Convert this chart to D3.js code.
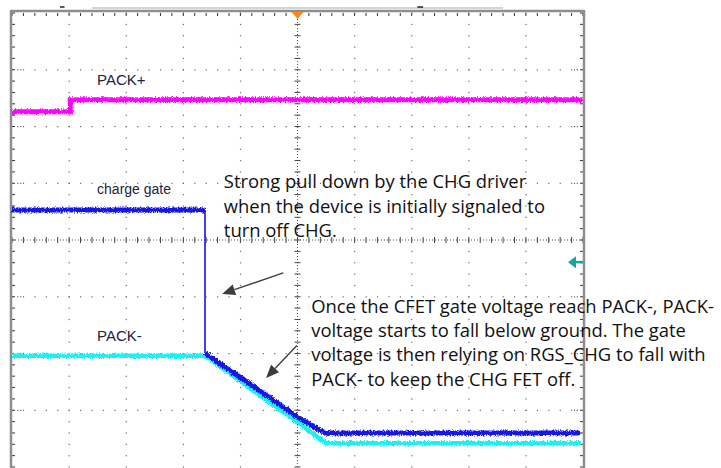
<!DOCTYPE html>
<html>
<head>
<meta charset="utf-8">
<script src="https://cdn.jsdelivr.net/npm/d3@7"></script>
<style>
  html, body { margin: 0; padding: 0; background: #fff; }
  svg { display: block; }
</style>
</head>
<body>
<div id="chart"></div>
<script>
'use strict';

// time in divisions (-5..5), voltage in divisions (-4..4)
var packPlusT = [-5, -3.98, -3.98, 5];
var packPlusV = [2.26, 2.26, 2.47, 2.47];

var gateT = [-5, -1.62, -1.62, 0.0, 0.48, 4.95];
var gateV = [0.53, 0.53, -1.99, -3.12, -3.40, -3.40];

var packMinusT = [-5, -1.62, 0.0, 0.5, 4.95];
var packMinusV = [-2.04, -2.04, -3.21, -3.58, -3.58];

var traceLabels = ['PACK+', 'charge gate', 'PACK-'];
var traceLabelT = [-3.51, -3.51, -3.51];
var traceLabelV = [2.74, 0.81, -1.78];

var noteLines1 = ['Strong pull down by the CHG driver',
                  'when the device is initially signaled to',
                  'turn off CHG.'];
var noteLines2 = ['Once the CFET gate voltage reach PACK-, PACK-',
                  'voltage starts to fall below ground. The gate',
                  'voltage is then relying on RGS_CHG to fall with',
                  'PACK- to keep the CHG FET off.'];
var noteAnchorT = [-1.29, 0.24];
var noteAnchorV = [0.91, -1.28];

// arrows: [fromT, fromV] -> [toT, toV]
var arrowFrom = [[-0.25, -0.58], [-0.01, -1.86]];
var arrowTo = [[-1.32, -0.95], [-0.55, -2.43]];

var W = 721, H = 468;
var x = d3.scaleLinear().domain([-5, 5]).range([12, 583]);
var y = d3.scaleLinear().domain([4, -4]).range([13, 467]);

var svg = d3.select('#chart').append('svg')
    .attr('width', W).attr('height', H)
    .attr('xmlns', 'http://www.w3.org/2000/svg');

var defs = svg.append('defs');
var flt = defs.append('filter').attr('id', 'noise')
    .attr('filterUnits', 'userSpaceOnUse')
    .attr('x', 0).attr('y', 0).attr('width', W).attr('height', H);
flt.append('feTurbulence').attr('type', 'fractalNoise')
    .attr('baseFrequency', '1.4 0.6').attr('numOctaves', 2).attr('seed', 5).attr('result', 't');
flt.append('feDisplacementMap').attr('in', 'SourceGraphic').attr('in2', 't')
    .attr('scale', 4.5).attr('xChannelSelector', 'R').attr('yChannelSelector', 'G');

// ── Grid ──
var grid = svg.append('g').attr('class', 'grid');
var majors = d3.range(-5, 6);
var majorsY = d3.range(-4, 5);
var minorX = d3.range(-25, 26).map(function(d) { return d / 5; });
var minorY = d3.range(-20, 21).map(function(d) { return d / 5; });
var dotColor = '#6a6a6a';

majors.filter(function(d) { return d !== 0 && Math.abs(d) !== 5; }).forEach(function(mx) {
    grid.selectAll(null).data(minorY).enter().append('rect')
        .attr('x', x(mx) - 0.5).attr('y', function(d) { return y(d) - 0.5; })
        .attr('width', 1.2).attr('height', 1.2).attr('fill', dotColor);
});
majorsY.filter(function(d) { return d !== 0 && Math.abs(d) !== 4; }).forEach(function(my) {
    grid.selectAll(null).data(minorX).enter().append('rect')
        .attr('x', function(d) { return x(d) - 0.5; }).attr('y', y(my) - 0.5)
        .attr('width', 1.2).attr('height', 1.2).attr('fill', dotColor);
    // denser dots next to the borders
    [-4.9, -4.85, 4.85, 4.9].forEach(function(t) {
        grid.append('rect').attr('x', x(t) - 0.5).attr('y', y(my) - 0.5)
            .attr('width', 1.2).attr('height', 1.2).attr('fill', dotColor);
    });
});

// center lines
grid.append('line').attr('x1', x(0)).attr('x2', x(0)).attr('y1', y(4)).attr('y2', y(-4))
    .attr('stroke', '#555').attr('stroke-width', 1).attr('stroke-dasharray', '1,2');
grid.append('line').attr('x1', x(-5)).attr('x2', x(5)).attr('y1', y(0)).attr('y2', y(0))
    .attr('stroke', '#555').attr('stroke-width', 1).attr('stroke-dasharray', '1,2');
grid.selectAll('.cty').data(minorY).enter().append('line').attr('class', 'cty')
    .attr('x1', x(0) - 3).attr('x2', x(0) + 3)
    .attr('y1', function(d) { return y(d); }).attr('y2', function(d) { return y(d); })
    .attr('stroke', '#444').attr('stroke-width', 1);
grid.selectAll('.ctx').data(minorX).enter().append('line').attr('class', 'ctx')
    .attr('y1', y(0) - 3).attr('y2', y(0) + 3)
    .attr('x1', function(d) { return x(d); }).attr('x2', function(d) { return x(d); })
    .attr('stroke', '#444').attr('stroke-width', 1);

// border ticks
grid.selectAll('.btx').data(minorX).enter().append('line').attr('class', 'btx')
    .attr('x1', function(d) { return x(d); }).attr('x2', function(d) { return x(d); })
    .attr('y1', y(4)).attr('y2', y(4) + 3)
    .attr('stroke', '#333').attr('stroke-width', 1);
grid.selectAll('.bly').data(minorY).enter().append('line').attr('class', 'bly')
    .attr('x1', x(-5)).attr('x2', x(-5) + 3)
    .attr('y1', function(d) { return y(d); }).attr('y2', function(d) { return y(d); })
    .attr('stroke', '#333').attr('stroke-width', 1);
grid.selectAll('.bry').data(minorY).enter().append('line').attr('class', 'bry')
    .attr('x1', x(5) - 3).attr('x2', x(5))
    .attr('y1', function(d) { return y(d); }).attr('y2', function(d) { return y(d); })
    .attr('stroke', '#333').attr('stroke-width', 1);

// frame
svg.append('line').attr('x1', x(-3.6)).attr('x2', x(3.6)).attr('y1', y(4) - 5).attr('y2', y(4) - 5)
    .attr('stroke', '#d4d4d4').attr('stroke-width', 2);
svg.append('line').attr('x1', x(-5) - 1).attr('x2', x(5) + 1).attr('y1', y(4) - 2).attr('y2', y(4) - 2)
    .attr('stroke', '#8e8e8e').attr('stroke-width', 2.5);
svg.append('line').attr('x1', x(-5) - 1).attr('x2', x(-5) - 1).attr('y1', y(4) - 3).attr('y2', H)
    .attr('stroke', '#8e8e8e').attr('stroke-width', 2.5);
svg.append('line').attr('x1', x(5) + 1).attr('x2', x(5) + 1).attr('y1', y(4) - 3).attr('y2', H)
    .attr('stroke', '#8e8e8e').attr('stroke-width', 2.5);
svg.append('line').attr('x1', x(-4.16)).attr('x2', x(-4.08)).attr('y1', y(4) - 6).attr('y2', y(4) - 6)
    .attr('stroke', '#222').attr('stroke-width', 1.5);
svg.append('line').attr('x1', x(2.1)).attr('x2', x(2.2)).attr('y1', y(4) - 6).attr('y2', y(4) - 6)
    .attr('stroke', '#222').attr('stroke-width', 1.5);

// ── Traces ──
var line = d3.line().x(function(d) { return x(d[0]); }).y(function(d) { return y(d[1]); });
var traces = svg.append('g').attr('class', 'traces');

function zipT(ts, vs) { return ts.map(function(t, i) { return [t, vs[i]]; }); }

traces.append('path').datum(zipT(packPlusT, packPlusV))
    .attr('d', line).attr('fill', 'none').attr('stroke', '#ff00ff')
    .attr('stroke-width', 5).attr('filter', 'url(#noise)');

traces.append('path').datum(zipT(packMinusT, packMinusV))
    .attr('d', line).attr('fill', 'none').attr('stroke', '#1ef0f0')
    .attr('stroke-width', 4.5).attr('stroke-linejoin', 'round').attr('filter', 'url(#noise)');

var gatePts = zipT(gateT, gateV);
var gateThick = [gatePts.slice(0, 2), gatePts.slice(2)];
gateThick.forEach(function(p) {
    traces.append('path').datum(p)
        .attr('d', line).attr('fill', 'none').attr('stroke', '#1414e6')
        .attr('stroke-width', 5).attr('stroke-linejoin', 'round')
        .attr('filter', 'url(#noise)');
});
traces.append('path').datum(gatePts.slice(1, 3))
    .attr('d', line).attr('fill', 'none').attr('stroke', '#1414e6')
    .attr('stroke-width', 1.6);

// trace labels
svg.selectAll('.tlabel').data(traceLabels).enter().append('text').attr('class', 'tlabel')
    .attr('x', function(d, i) { return x(traceLabelT[i]); })
    .attr('y', function(d, i) { return y(traceLabelV[i]); })
    .attr('font-family', 'Liberation Sans, Arial, sans-serif')
    .attr('font-size', function(d, i) { return i === 1 ? 14 : 15; })
    .attr('fill', '#23233c')
    .text(function(d) { return d; });

// ── Markers ──
svg.append('path')
    .attr('d', 'M' + (x(0) - 6) + ',' + (y(4) - 1) + 'L' + (x(0) + 6) + ',' + (y(4) - 1) + 'L' + x(0) + ',' + (y(4) + 6) + 'Z')
    .attr('fill', '#fb8a1e');
var ty = y(-0.39);
svg.append('path')
    .attr('d', 'M' + (x(5) - 15) + ',' + ty + 'L' + (x(5) - 7) + ',' + (ty - 6) + 'L' + (x(5) - 7) + ',' + (ty + 6) + 'Z')
    .attr('fill', '#1aa3a3');
svg.append('line').attr('x1', x(5) - 8).attr('x2', x(5)).attr('y1', ty).attr('y2', ty)
    .attr('stroke', '#1aa3a3').attr('stroke-width', 2.5);

// ── Annotations ──
var noteFont = '"Open Sans", Lato, sans-serif';
[noteLines1, noteLines2].forEach(function(lines, k) {
    svg.selectAll('.note' + k).data(lines).enter().append('text').attr('class', 'note' + k)
        .attr('x', x(noteAnchorT[k]))
        .attr('y', function(d, i) { return y(noteAnchorV[k]) + i * 24.4; })
        .attr('font-family', noteFont).attr('font-size', 18.4)
        .attr('fill', '#111')
        .text(function(d) { return d; });
});

arrowFrom.forEach(function(f, i) {
    var t = arrowTo[i];
    var x1 = x(f[0]), y1 = y(f[1]), x2 = x(t[0]), y2 = y(t[1]);
    var ang = Math.atan2(y2 - y1, x2 - x1);
    var len = 13, half = 5.5;
    var bx = x2 - len * Math.cos(ang), by = y2 - len * Math.sin(ang);
    svg.append('line').attr('x1', x1).attr('y1', y1).attr('x2', bx).attr('y2', by)
        .attr('stroke', '#3c3c3c').attr('stroke-width', 1.3);
    svg.append('path')
        .attr('d', 'M' + x2 + ',' + y2 +
            'L' + (bx + half * Math.sin(ang)) + ',' + (by - half * Math.cos(ang)) +
            'L' + (bx - half * Math.sin(ang)) + ',' + (by + half * Math.cos(ang)) + 'Z')
        .attr('fill', '#3c3c3c');
});
</script>
</body>
</html>
